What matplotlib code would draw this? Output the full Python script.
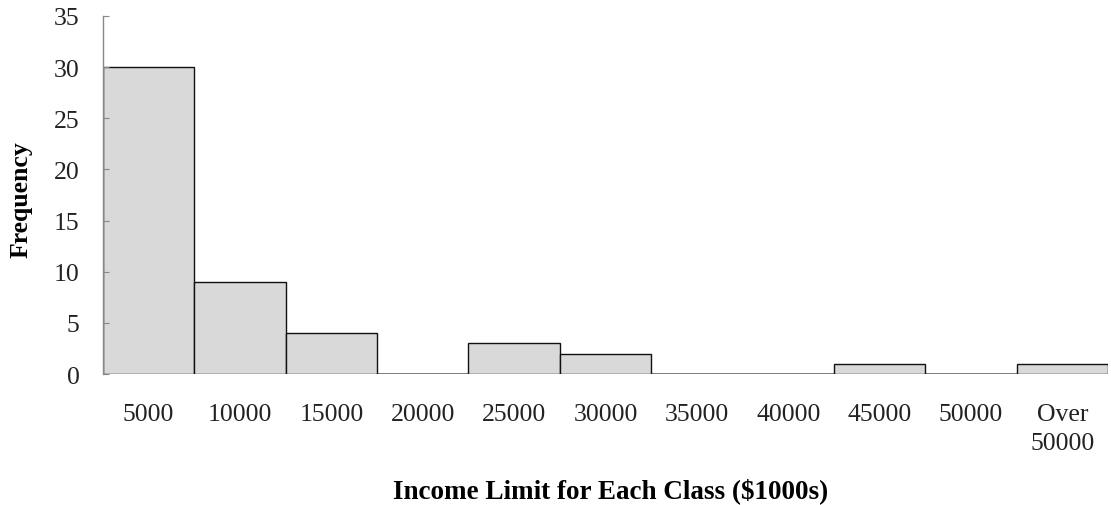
import matplotlib
matplotlib.use("Agg")
import matplotlib.pyplot as plt

categories = ["5000", "10000", "15000", "20000", "25000", "30000", "35000",
              "40000", "45000", "50000", "Over\n50000"]
frequency = [30, 9, 4, 0, 3, 2, 0, 0, 1, 0, 1]
yticks = [0, 5, 10, 15, 20, 25, 30, 35]

plt.rcParams['font.family'] = ['Liberation Serif', 'DejaVu Serif']

fig = plt.figure(figsize=(11.11, 5.06), dpi=100)
ax = fig.add_axes([103/1111, 1 - 375/506, (1108-103)/1111, (375-17)/506])

x = list(range(len(categories)))
ax.bar(x, frequency, width=1.0, color='#d9d9d9', edgecolor='#111111', linewidth=1.0)
ax.axhline(0, color='#888888', linewidth=1.2, zorder=0)

ax.set_xlim(-0.5, len(categories) - 0.5)
ax.set_ylim(0, 35)
ax.set_yticks(yticks)
ax.set_yticklabels([str(v) for v in yticks], fontsize=18.5)
ax.set_xticks(x)
ax.set_xticklabels(categories, fontsize=18.5, color='#222222', linespacing=1.4)
ax.tick_params(axis='x', length=0, pad=21)
ax.tick_params(axis='y', direction='in', length=4, pad=17, labelcolor='#222222', color='#888888')

for s in ['top', 'right', 'bottom']:
    ax.spines[s].set_visible(False)
ax.spines['left'].set_color('#888888')
ax.spines['left'].set_linewidth(1.0)

ax.set_ylabel("Frequency", fontsize=18.5, fontweight='bold')
ax.set_xlabel("Income Limit for Each Class ($1000s)", fontsize=19.5, fontweight='bold')
ax.yaxis.set_label_coords(-0.0706, 0.489)
ax.xaxis.set_label_coords(0.505, -0.288)

fig.savefig("out.png", dpi=100)
